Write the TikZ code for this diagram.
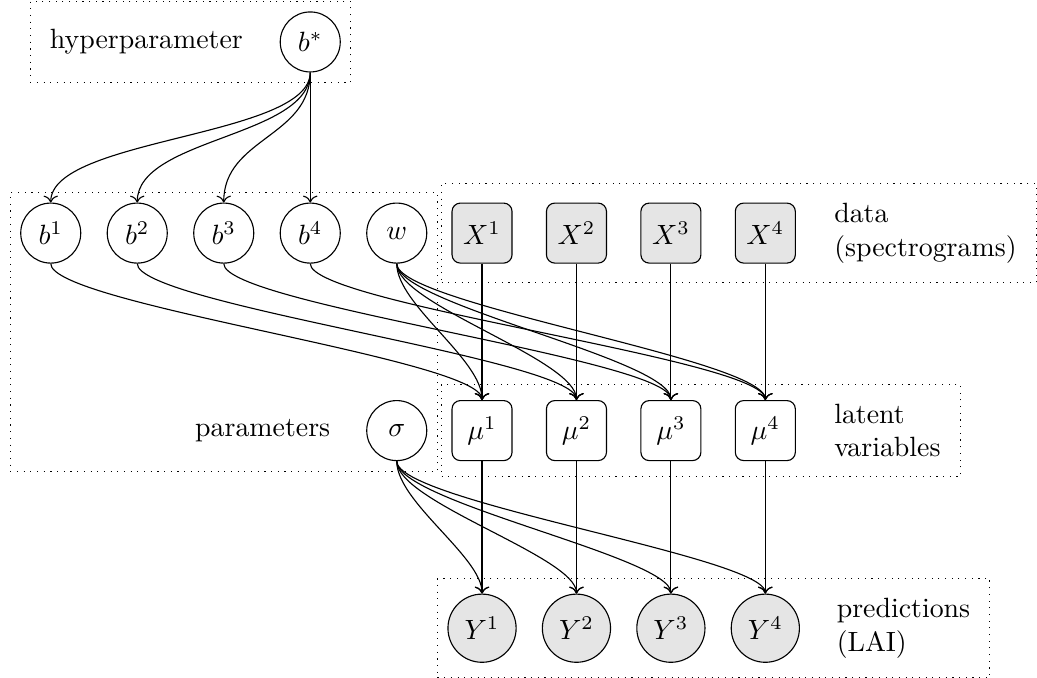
\documentclass[tikz,border=0pt]{standalone}
\usepackage{tikz}
\usetikzlibrary{positioning, fit, arrows.meta}
\usepackage{amsmath}

\begin{document}
\begin{tikzpicture}[
  node distance=0.32cm and 0.32cm,
  latent/.style={circle,draw,minimum size=0.757cm,inner sep=1pt},
  obs/.style={circle,draw,fill=gray!20,minimum size=0.86cm,inner sep=1pt},
  datbox/.style={rectangle,draw,rounded corners=3pt,minimum size=0.757cm},
  plate/.style={draw,dotted,inner sep=0.125cm},
  lbl/.style={align=left},
  arr/.style={->},
  drop/.style={to path={.. controls +(0,-#1) and +(0,#1) .. (\tikztotarget)}},
  drop/.default=0.9
]
  \useasboundingbox (0,0) rectangle (13.08,-8.54);

  % Parameters
  \node[latent] (b1) at (0.64,-2.94) {$b^1$};
  \node[latent, right=of b1] (b2) {$b^2$};
  \node[latent, right=of b2] (b3) {$b^3$};
  \node[latent, right=of b3] (b4) {$b^4$};
  \node[latent, right=of b4] (w) {$w$};
  \node[latent, below=1.72cm of w] (sig) {$\sigma$};
  \node[left=0.33cm of sig] (parlbl) {parameters};

  % Hyperparameter
  \node[latent, above=1.64cm of b4] (bs) {$b^*$};
  \node[left=0.34cm of bs] (hyplbl) {hyperparameter};

  % Data
  \node[datbox, fill=gray!20] (X1) at (6.08,-2.94) {$X^1$};
  \node[datbox, fill=gray!20, right=0.42cm of X1] (X2) {$X^2$};
  \node[datbox, fill=gray!20, right=0.42cm of X2] (X3) {$X^3$};
  \node[datbox, fill=gray!20, right=0.42cm of X3] (X4) {$X^4$};
  \node[lbl, right=0.36cm of X4] (datlbl) {data\\(spectrograms)};

  % Latent variables
  \node[datbox, below=1.72cm of X1] (mu1) {$\mu^1$};
  \node[datbox, below=1.72cm of X2] (mu2) {$\mu^2$};
  \node[datbox, below=1.72cm of X3] (mu3) {$\mu^3$};
  \node[datbox, below=1.72cm of X4] (mu4) {$\mu^4$};
  \node[lbl, right=0.36cm of mu4] (latlbl) {latent\\variables};

  % Predictions
  \node[obs, below=1.67cm of mu1] (Y1) {$Y^1$};
  \node[obs, below=1.67cm of mu2] (Y2) {$Y^2$};
  \node[obs, below=1.67cm of mu3] (Y3) {$Y^3$};
  \node[obs, below=1.67cm of mu4] (Y4) {$Y^4$};
  \node[lbl, right=0.34cm of Y4] (predlbl) {predictions\\(LAI)};

  % Plates
  \node[plate, fit=(hyplbl)(bs)] (hypplate) {};
  \node[plate, fit=(b1)(w)(sig)(parlbl)] (parplate) {};
  \node[plate, fit=(X1)(X4)(datlbl)] (datplate) {};
  \node[plate, fit=(mu1)(mu4)(latlbl)] (latplate) {};
  \node[plate, fit=(Y1)(Y4)(predlbl)] (predplate) {};

  % Edges
  \path[arr] (bs) edge[drop=1.2] (b1) edge[drop=1.2] (b2) edge[drop=1.2] (b3) edge (b4);
  \path[arr] (b1) edge[drop] (mu1) (b2) edge[drop] (mu2) (b3) edge[drop] (mu3) (b4) edge[drop] (mu4);
  \path[arr] (w) edge[drop] (mu1) edge[drop] (mu2) edge[drop] (mu3) edge[drop] (mu4);
  \path[arr] (X1) edge (mu1) (X2) edge (mu2) (X3) edge (mu3) (X4) edge (mu4);
  \path[arr] (mu1) edge (Y1) (mu2) edge (Y2) (mu3) edge (Y3) (mu4) edge (Y4);
  \path[arr] (sig) edge[drop] (Y1) edge[drop] (Y2) edge[drop] (Y3) edge[drop] (Y4);
\end{tikzpicture}
\end{document}
